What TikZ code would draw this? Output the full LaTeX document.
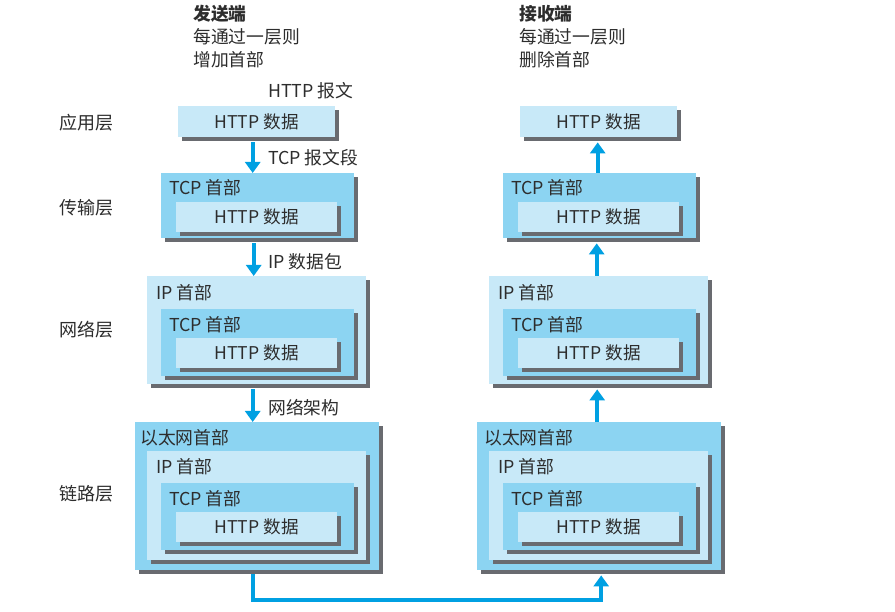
\documentclass[tikz,border=0pt]{standalone}
\usepackage{fontspec}
\setmainfont{Noto Sans CJK SC}
\usetikzlibrary{shadows,arrows.meta}
\definecolor{lightb}{RGB}{200,233,248}
\definecolor{midb}{RGB}{140,212,242}
\definecolor{shgray}{RGB}{105,107,112}
\definecolor{arrb}{RGB}{0,160,226}
\definecolor{txt}{RGB}{45,45,45}
\tikzset{
  bx/.style={rectangle, inner sep=0pt, anchor=north west, text=txt, font=\fontsize{17.6}{20}\selectfont,
    general shadow={fill=shgray, shadow xshift=4pt, shadow yshift=-4pt}},
  lb/.style={bx, fill=lightb},
  mb/.style={bx, fill=midb},
  sz/.style n args={4}{minimum width={#3pt-#1pt}, minimum height={#4pt-#2pt}},
  hdr/.style={anchor=west, inner sep=0pt, text=txt, font=\fontsize{17.8}{20}\selectfont},
  lay/.style={anchor=center, inner sep=0pt, text=txt, font=\fontsize{18}{20}\selectfont},
  arr/.style={draw=arrb, line width=4pt, -{Triangle[width=15pt,length=11pt]}},
}
\begin{document}
\begin{tikzpicture}[x=1pt,y=-1pt]
\useasboundingbox[fill=white] (0,0) rectangle (895,612);
% headers
\node[hdr, font=\fontsize{17.8}{20}\selectfont\bfseries] (hs1) at (193,14) {发送端};
\node[hdr] (hs2) at (193,37) {每通过一层则};
\node[hdr] (hs3) at (193,60) {增加首部};
\node[hdr, font=\fontsize{17.8}{20}\selectfont\bfseries] (hr1) at (519,14) {接收端};
\node[hdr] (hr2) at (519,37) {每通过一层则};
\node[hdr] (hr3) at (519,60) {删除首部};
% layer labels
\node[lay] (ly1) at (86,123) {应用层};
\node[lay] (ly2) at (86,208) {传输层};
\node[lay] (ly3) at (86,330) {网络层};
\node[lay] (ly4) at (86,494) {链路层};
% left column
\node[lb, sz={178}{106}{335}{137}] (l1) at (178,106) {HTTP 数据};
\node[mb, sz={161}{173}{354}{238}] (l2) at (161,173) {};
\node[lb, sz={176}{202}{337}{232}] (l2h) at (176,202) {HTTP 数据};
\node[lb, sz={147}{276}{366}{384}] (l3) at (147,276) {};
\node[mb, sz={161}{309}{354}{376}] (l3t) at (161,309) {};
\node[lb, sz={176}{338}{337}{368}] (l3h) at (176,338) {HTTP 数据};
\node[mb, sz={135}{422}{379}{570}] (l4) at (135,422) {};
\node[lb, sz={147}{451}{366}{560}] (l4i) at (147,451) {};
\node[mb, sz={161}{483}{354}{550}] (l4t) at (161,483) {};
\node[lb, sz={176}{512}{337}{542}] (l4h) at (176,512) {HTTP 数据};
% right column
\node[lb, sz={520}{106}{677}{137}] (r1) at (520,106) {HTTP 数据};
\node[mb, sz={503}{173}{696}{238}] (r2) at (503,173) {};
\node[lb, sz={518}{202}{679}{232}] (r2h) at (518,202) {HTTP 数据};
\node[lb, sz={489}{276}{708}{384}] (r3) at (489,276) {};
\node[mb, sz={503}{309}{696}{376}] (r3t) at (503,309) {};
\node[lb, sz={518}{338}{679}{368}] (r3h) at (518,338) {HTTP 数据};
\node[mb, sz={477}{422}{721}{570}] (r4) at (477,422) {};
\node[lb, sz={489}{451}{708}{560}] (r4i) at (489,451) {};
\node[mb, sz={503}{483}{696}{550}] (r4t) at (503,483) {};
\node[lb, sz={518}{512}{679}{542}] (r4h) at (518,512) {HTTP 数据};
% header texts inside boxes
\node[hdr] (tl2) at (169,188) {TCP 首部};
\node[hdr] (il3) at (156,293) {IP 首部};
\node[hdr] (tl3) at (169,325) {TCP 首部};
\node[hdr] (el4) at (140,438) {以太网首部};
\node[hdr] (il4) at (156,467) {IP 首部};
\node[hdr] (tl4) at (169,499) {TCP 首部};
\node[hdr] (tr2) at (511,188) {TCP 首部};
\node[hdr] (ir3) at (498,293) {IP 首部};
\node[hdr] (tr3) at (511,325) {TCP 首部};
\node[hdr] (er4) at (484,438) {以太网首部};
\node[hdr] (ir4) at (498,467) {IP 首部};
\node[hdr] (tr4) at (511,499) {TCP 首部};
% arrow labels
\node[hdr] (a0) at (268,91) {HTTP 报文};
\node[hdr] (a1) at (268,158) {TCP 报文段};
\node[hdr] (a2) at (268,262) {IP 数据包};
\node[hdr] (a3) at (268,408) {网络架构};
% arrows left (down)
\draw[arr] ([xshift=-4pt,yshift=-5pt]l1.south) -- ([xshift=-4pt]l1.south |- l2.north);
\draw[arr] ([xshift=-4pt,yshift=-5pt]l2.south) -- ([xshift=-4pt]l2.south |- l3.north);
\draw[arr] ([xshift=-4pt,yshift=-5pt]l3.south) -- ([xshift=-4pt]l3.south |- l4.north);
% arrows right (up)
\draw[arr] ([xshift=-2pt]r2.north) -- ([xshift=-2pt,yshift=-5pt]r2.north |- r1.south);
\draw[arr] ([xshift=-2pt]r3.north) -- ([xshift=-2pt,yshift=-5pt]r3.north |- r2.south);
\draw[arr] ([xshift=-2pt]r4.north) -- ([xshift=-2pt,yshift=-5pt]r4.north |- r3.south);
% bottom connector
\coordinate (bot) at (430,600);
\draw[arr] ([xshift=-4pt,yshift=-4pt]l4.south) |- (bot) -| ([xshift=2pt,yshift=-5pt]r4.south);
\end{tikzpicture}
\end{document}
